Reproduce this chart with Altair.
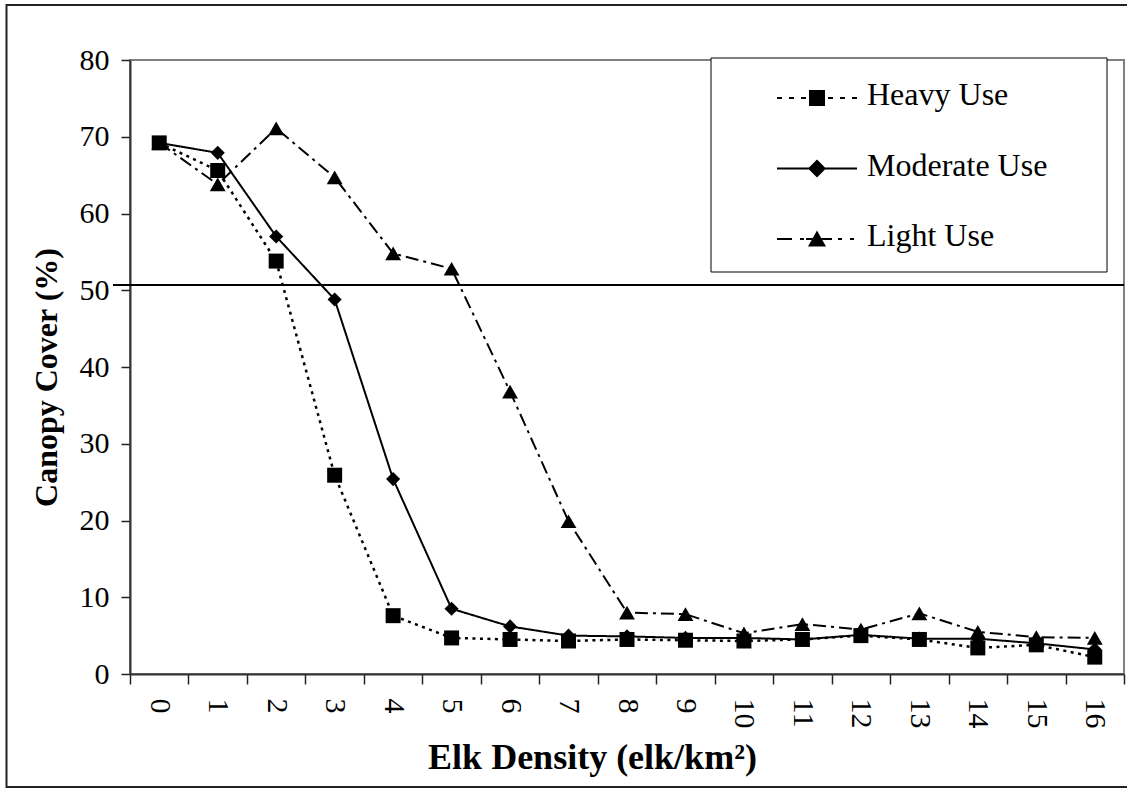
import altair as alt
import pandas as pd

# ---------------- data ----------------
DENSITY = [str(d) for d in range(17)]
HEAVY = [69.2, 65.6, 53.8, 25.9, 7.6, 4.7, 4.5, 4.3, 4.5, 4.4, 4.3, 4.5, 5.0, 4.5, 3.4, 3.8, 2.2]
MODERATE = [69.2, 67.9, 57.0, 48.8, 25.4, 8.5, 6.2, 5.0, 4.9, 4.7, 4.7, 4.5, 5.1, 4.6, 4.6, 4.0, 3.2]
LIGHT = [69.2, 63.8, 71.1, 64.7, 54.8, 52.8, 36.8, 19.9, 8.0, 7.8, 5.3, 6.5, 5.8, 7.9, 5.5, 4.8, 4.7]
SERIES = ["Heavy Use", "Moderate Use", "Light Use"]
THRESHOLD = [50.7]
Y_TICKS = [0, 10, 20, 30, 40, 50, 60, 70, 80]

rows = []
for name, vals in zip(SERIES, [HEAVY, MODERATE, LIGHT]):
    for d, v in zip(DENSITY, vals):
        rows.append({"density": d, "cover": v, "series": name})
df = pd.DataFrame(rows)

# ---------------- layout ----------------
W, H = 994, 614
LEFT, TOP = 130, 60
FONT = "Liberation Serif"

X_ENC = alt.X(
    "density:O",
    sort=DENSITY,
    scale=alt.Scale(type="band", paddingInner=0, paddingOuter=0),
    axis=alt.Axis(
        title="Elk Density (elk/km²)",
        titleFont=FONT, titleFontSize=36, titleFontWeight="bold", titleColor="black",
        titleX=462, titleY=94, titleAlign="center", titleBaseline="alphabetic",
        labelAngle=90, labelAlign="left", labelBaseline="middle",
        labelFont=FONT, labelFontSize=30, labelColor="black", labelPadding=14,
        labelOverlap=False,
        tickBand="extent", tickSize=10, tickWidth=1.5, tickColor="#222222",
        domainColor="#333333", domainWidth=2, grid=False,
    ),
)
Y_ENC = alt.Y(
    "cover:Q",
    scale=alt.Scale(domain=[0, 80], nice=False),
    axis=alt.Axis(
        title="Canopy Cover (%)", values=Y_TICKS,
        titleFont=FONT, titleFontSize=32, titleFontWeight="bold", titleColor="black",
        titleX=-74, titleY=317, titleAngle=270, titleAlign="center", titleBaseline="alphabetic",
        labelFont=FONT, labelFontSize=30, labelColor="black", labelPadding=12,
        tickSize=9, tickWidth=1.5, tickColor="#222222",
        domainColor="#333333", domainWidth=2, grid=False,
    ),
)

base = alt.Chart(df)
one = pd.DataFrame({"f": [0]})

# outer chart frame (decoration)
frame = alt.Chart(one).mark_rect(
    fill="transparent", stroke="#222222", strokeWidth=2
).encode(
    x=alt.value(6.5 - LEFT), x2=alt.value(1130 - LEFT),
    y=alt.value(5 - TOP), y2=alt.value(787 - TOP),
)

# legend box (decoration behind the legend entries)
legend_box = alt.Chart(one).mark_rect(
    fill="white", stroke="black", strokeWidth=1
).encode(
    x=alt.value(711 - LEFT), x2=alt.value(1107 - LEFT),
    y=alt.value(58 - TOP), y2=alt.value(272 - TOP),
)

rule = alt.Chart(pd.DataFrame({"cover": THRESHOLD})).mark_rule(
    color="black", strokeWidth=2
).encode(y=Y_ENC, x=alt.value(-17), x2=alt.value(W))

DASHES = {"Heavy Use": [3, 4.5], "Moderate Use": [1, 0], "Light Use": [13, 5, 3, 5]}
WIDTHS = {"Heavy Use": 2.5, "Moderate Use": 2, "Light Use": 2}
SHAPES = {"Heavy Use": ("square", 225), "Moderate Use": ("diamond", 200), "Light Use": ("triangle-up", 250)}

lines = []
for name in ["Light Use", "Moderate Use", "Heavy Use"]:
    lines.append(
        base.transform_filter(alt.datum.series == name)
        .mark_line(color="black", strokeWidth=WIDTHS[name], strokeDash=DASHES[name])
        .encode(x=X_ENC, y=Y_ENC)
    )
points = []
for name in ["Light Use", "Moderate Use", "Heavy Use"]:
    shp, sz = SHAPES[name]
    points.append(
        base.transform_filter(alt.datum.series == name)
        .mark_point(shape=shp, size=sz, filled=True, color="black", opacity=1)
        .encode(x=X_ENC, y=Y_ENC)
    )

# ---------- legend symbols (line sample + marker as one path) ----------
S = 64.5      # half width of the symbol in px
C = 792.5     # symbol centre (absolute x)
DY = 3        # vertical shift of the sample inside the entry


def px(v):
    return f"{(v - C) / S:.4f}"


def py(v):
    return f"{(v + DY) / S:.4f}"


def bar(a, b, t=1.0):
    return f"M{px(a)},{py(-t)}H{px(b)}V{py(t)}H{px(a)}Z"


def poly(pts):
    return "M" + "L".join(f"{px(x)},{py(y)}" for x, y in pts) + "Z"


heavy_path = "".join(bar(a, b) for a, b in [(777, 782), (789, 794), (801, 806), (828, 833), (840, 845), (852, 857)])
heavy_path += poly([(809, -8), (825, -8), (825, 8), (809, 8)])
mod_path = bar(777, 857) + poly([(808, 0), (817, -9), (826, 0), (817, 9)])
light_path = "".join(bar(a, b) for a, b in [(777, 792), (800, 804), (806, 832), (838, 842), (850, 854)])
light_path += poly([(817, -8.5), (826, 7.5), (808, 7.5)])

legend_layer = base.transform_filter("false").mark_point(
    filled=True, color="black", opacity=1, strokeWidth=0
).encode(
    x=X_ENC, y=Y_ENC,
    shape=alt.Shape(
        "series:N",
        scale=alt.Scale(domain=SERIES, range=[heavy_path, mod_path, light_path]),
        legend=alt.Legend(
            title=None, orient="none", direction="vertical",
            legendX=711 - LEFT, legendY=58 - TOP,
            padding=17, fillColor="transparent", strokeColor="transparent",
            labelFont=FONT, labelFontSize=32, labelColor="black",
            labelOffset=10, labelLimit=600,
            symbolSize=(2 * S) ** 2, symbolFillColor="black", symbolStrokeWidth=0,
            symbolOpacity=1, clipHeight=40, rowPadding=30.5,
        ),
    ),
)

chart = alt.layer(frame, rule, *lines, *points, legend_box, legend_layer).properties(
    width=W, height=H,
    autosize=alt.AutoSizeParams(type="none"),
    padding={"left": LEFT, "top": TOP, "right": 3, "bottom": 118},
    background="white",
).configure_view(stroke="#808080", strokeWidth=2)

chart.save("out.html", embed_options={"renderer": "svg", "actions": False})
